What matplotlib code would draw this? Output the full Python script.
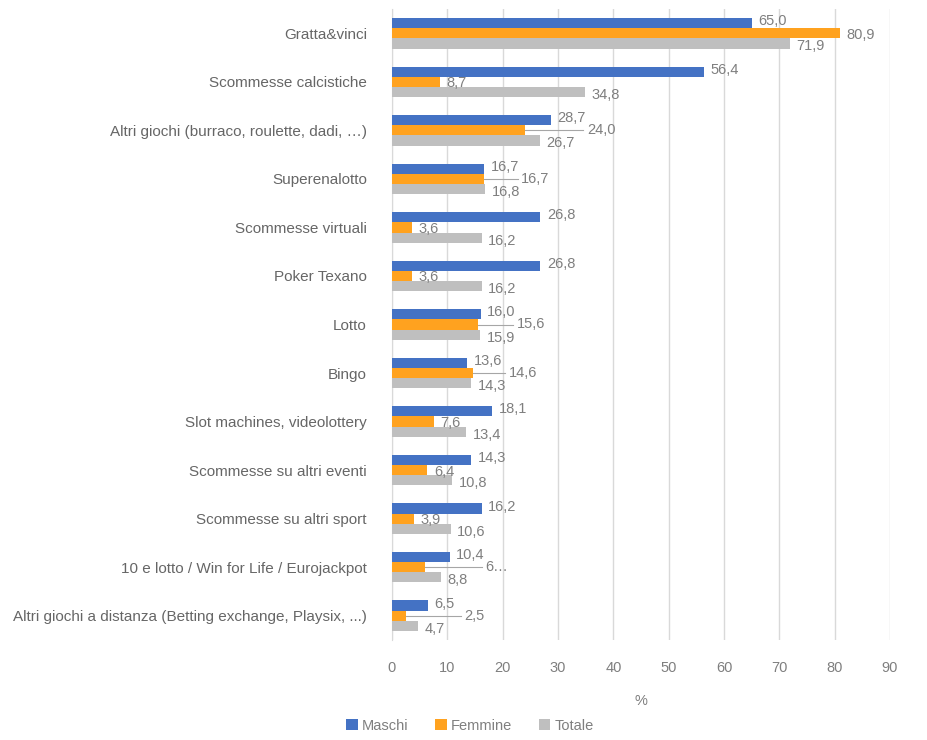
import numpy as np
import matplotlib.pyplot as plt

categorie = [
    "Gratta&vinci",
    "Scommesse calcistiche",
    "Altri giochi (burraco, roulette, dadi, \u2026)",
    "Superenalotto",
    "Scommesse virtuali",
    "Poker Texano",
    "Lotto",
    "Bingo",
    "Slot machines, videolottery",
    "Scommesse su altri eventi",
    "Scommesse su altri sport",
    "10 e lotto / Win for Life / Eurojackpot",
    "Altri giochi a distanza (Betting exchange, Playsix, ...)",
]
maschi = [65.0, 56.4, 28.7, 16.7, 26.8, 26.8, 16.0, 13.6, 18.1, 14.3, 16.2, 10.4, 6.5]
femmine = [80.9, 8.7, 24.0, 16.7, 3.6, 3.6, 15.6, 14.6, 7.6, 6.4, 3.9, 6.0, 2.5]
totale = [71.9, 34.8, 26.7, 16.8, 16.2, 16.2, 15.9, 14.3, 13.4, 10.8, 10.6, 8.8, 4.7]
etichette_femmine = ["80,9", "8,7", "24,0", "16,7", "3,6", "3,6", "15,6", "14,6",
                     "7,6", "6,4", "3,9", "6\u2026", "2,5"]

colori = {"Maschi": "#4472C4", "Femmine": "#FFA21F", "Totale": "#BFBFBF"}

plt.rcParams['font.family'] = ['Liberation Sans', 'DejaVu Sans']
grigio = "#7F7F7F"

fig = plt.figure(figsize=(9.27, 7.40), dpi=100)
ax = fig.add_axes([392 / 927, 1 - 640 / 740, (890 - 392) / 927, (640 - 9) / 740])

y = np.arange(len(categorie))
h = 0.21
pos_m, pos_f, pos_t = y - h, y, y + h
ax.barh(pos_m, maschi, height=h, color=colori["Maschi"], label="Maschi", zorder=3)
ax.barh(pos_f, femmine, height=h, color=colori["Femmine"], label="Femmine", zorder=3)
ax.barh(pos_t, totale, height=h, color=colori["Totale"], label="Totale", zorder=3)

fs = 10.5
for j in y:
    m, f, t = maschi[j], femmine[j], totale[j]
    ax.text(m + 1.2, pos_m[j] - 0.04, f"{m:.1f}".replace(".", ","), va="center",
            ha="left", fontsize=fs, color=grigio, zorder=4)
    ax.text(t + 1.2, pos_t[j] + 0.06, f"{t:.1f}".replace(".", ","), va="center",
            ha="left", fontsize=fs, color=grigio, zorder=4)
    if min(abs(f - m), abs(f - t)) < 3.5:
        # etichetta spostata a destra con linea guida
        xl = max(m, f, t) + 6.5
        ax.plot([f, xl - 0.6], [pos_f[j], pos_f[j]], color="#A6A6A6", lw=0.8, zorder=4)
        ax.text(xl, pos_f[j], etichette_femmine[j], va="center", ha="left",
                fontsize=fs, color=grigio, zorder=4)
    else:
        ax.text(f + 1.2, pos_f[j] + 0.03, etichette_femmine[j], va="center", ha="left",
                fontsize=fs, color=grigio, zorder=4)

ax.set_yticks(y)
ax.set_yticklabels(categorie, fontsize=11, color="#666666")
ax.set_ylim(len(categorie) - 0.5, -0.5)
ax.set_xlim(0, 90)
ax.set_xticks(range(0, 91, 10))
ax.tick_params(axis="x", labelsize=10.5, labelcolor=grigio, length=0, pad=15)
ax.tick_params(axis="y", length=0, pad=18)
ax.grid(axis="x", color="#D9D9D9", linewidth=1, zorder=0)
for s in ["top", "right", "bottom"]:
    ax.spines[s].set_visible(False)
ax.spines["left"].set_color("#D9D9D9")
ax.set_xlabel("%", fontsize=10.5, color=grigio, labelpad=14)

fig.legend(loc="lower center", bbox_to_anchor=(0.507, -0.008), ncol=3, frameon=False,
           fontsize=10.5, labelcolor=grigio, handlelength=0.8, handleheight=0.8,
           handletextpad=0.3, columnspacing=1.8)

fig.savefig("out.png", dpi=100)
